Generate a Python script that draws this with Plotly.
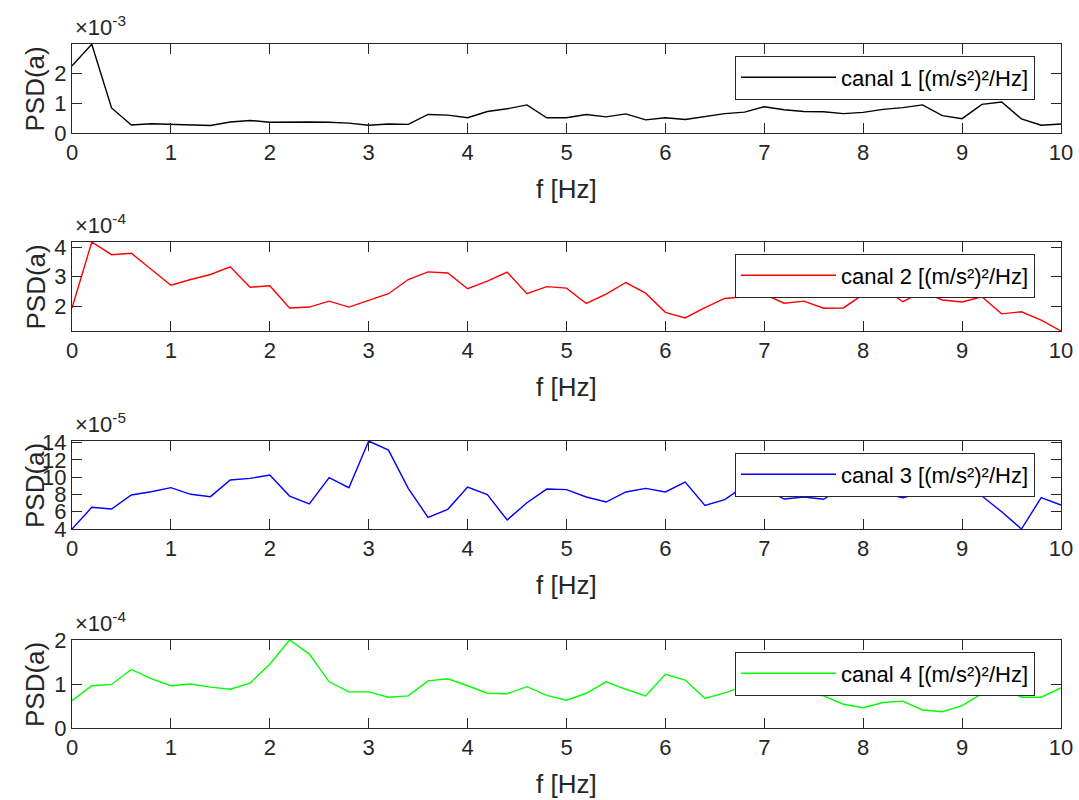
import numpy as np
import plotly.graph_objects as go

# ---------------- data ----------------
freq = [round(0.2 * i, 1) for i in range(51)]  # 0 ... 10 Hz

canal1 = [2.25, 2.97, 0.84, 0.27, 0.31, 0.29, 0.27, 0.25, 0.37, 0.42,
          0.36, 0.37, 0.37, 0.36, 0.33, 0.26, 0.30, 0.29, 0.62, 0.60,
          0.51, 0.72, 0.81, 0.94, 0.51, 0.51, 0.62, 0.54, 0.64, 0.44,
          0.51, 0.45, 0.55, 0.65, 0.70, 0.88, 0.78, 0.72, 0.71, 0.65,
          0.69, 0.79, 0.85, 0.94, 0.58, 0.48, 0.96, 1.04, 0.47, 0.26,
          0.30]  # x 1e-3
canal2 = [1.94, 4.17, 3.74, 3.79, 3.25, 2.71, 2.90, 3.07, 3.33, 2.64,
          2.69, 1.94, 1.97, 2.17, 1.97, 2.19, 2.42, 2.90, 3.16, 3.12,
          2.59, 2.85, 3.15, 2.42, 2.66, 2.61, 2.09, 2.41, 2.80, 2.44,
          1.79, 1.60, 1.95, 2.26, 2.32, 2.41, 2.10, 2.17, 1.93, 1.94,
          2.40, 2.65, 2.15, 2.49, 2.21, 2.14, 2.32, 1.74, 1.81, 1.53,
          1.16]  # x 1e-4
canal3 = [4.00, 6.51, 6.32, 7.94, 8.32, 8.79, 8.02, 7.75, 9.68, 9.87,
          10.25, 7.82, 6.90, 9.95, 8.79, 14.2, 13.15, 8.71, 5.35, 6.28,
          8.86, 7.98, 5.04, 7.05, 8.63, 8.56, 7.71, 7.13, 8.29, 8.71,
          8.29, 9.44, 6.74, 7.40, 9.00, 8.70, 7.47, 7.71, 7.44, 8.90,
          8.70, 8.13, 7.63, 8.21, 8.40, 8.48, 7.82, 6.00, 4.00, 7.63,
          6.78]  # x 1e-5
canal4 = [0.62, 0.96, 0.99, 1.33, 1.12, 0.96, 1.00, 0.93, 0.88, 1.02,
          1.45, 2.00, 1.68, 1.05, 0.82, 0.82, 0.70, 0.73, 1.07, 1.12,
          0.96, 0.79, 0.78, 0.94, 0.74, 0.63, 0.79, 1.05, 0.88, 0.73,
          1.22, 1.09, 0.67, 0.80, 0.95, 0.90, 0.75, 0.81, 0.73, 0.54,
          0.46, 0.58, 0.61, 0.41, 0.37, 0.51, 0.78, 0.92, 0.70, 0.70,
          0.91]  # x 1e-4

names = ["canal 1 [(m/s²)²/Hz]", "canal 2 [(m/s²)²/Hz]",
         "canal 3 [(m/s²)²/Hz]", "canal 4 [(m/s²)²/Hz]"]
exponents = [-3, -4, -5, -4]
y_ranges = [(0, 2.98), (1.16, 4.17), (4.0, 14.2), (0, 2.0)]
y_ticks = [[0, 1, 2], [2, 3, 4], [4, 6, 8, 10, 12, 14], [0, 1, 2]]
x_ticks = list(range(0, 11))
colors = ["#000000", "#ff0000", "#0000ff", "#00ff00"]
series = [canal1, canal2, canal3, canal4]

# ---------------- layout geometry (pixels) ----------------
W, H = 1079, 800
left_px, right_px = 72, 1061
panels_px = [(44, 133), (242, 331), (441, 529), (640, 728)]

FONT = "Liberation Sans, Arial, Helvetica, sans-serif"
AX = "#262626"
TICK_SIZE = 22
LABEL_SIZE = 26
LEG_SIZE = 22

fig = go.Figure()
layout = dict(
    width=W, height=H, autosize=False,
    margin=dict(l=0, r=0, t=0, b=0),
    paper_bgcolor="white", plot_bgcolor="white",
    font=dict(family=FONT, size=TICK_SIZE, color=AX),
    showlegend=True,
)
annotations = []

for i in range(4):
    sfx = "" if i == 0 else str(i + 1)
    scale = 10.0 ** exponents[i]
    yvals = np.array(series[i]) * scale
    fig.add_trace(go.Scatter(
        x=freq, y=yvals, mode="lines", name=names[i],
        line=dict(color=colors[i], width=1.4),
        xaxis="x" + sfx, yaxis="y" + sfx,
        legend="legend" + sfx,
    ))
    top, bot = panels_px[i]
    ydom = [1 - bot / H, 1 - top / H]
    layout["xaxis" + sfx] = dict(
        domain=[left_px / W, right_px / W], anchor="y" + sfx,
        range=[0, 10], tickvals=x_ticks, ticktext=[str(t) for t in x_ticks],
        showline=True, linecolor=AX, linewidth=1, mirror="ticks",
        ticks="inside", ticklen=10, tickcolor=AX, tickwidth=1,
        showgrid=False, zeroline=False, automargin=False,
        tickfont=dict(size=TICK_SIZE, color=AX, family=FONT),
    )
    layout["yaxis" + sfx] = dict(
        domain=ydom, anchor="x" + sfx,
        range=[y_ranges[i][0] * scale, y_ranges[i][1] * scale],
        tickvals=[t * scale for t in y_ticks[i]],
        ticktext=[str(t) for t in y_ticks[i]],
        showline=True, linecolor=AX, linewidth=1, mirror="ticks",
        ticks="inside", ticklen=10, tickcolor=AX, tickwidth=1,
        showgrid=False, zeroline=False, automargin=False,
        tickfont=dict(size=TICK_SIZE, color=AX, family=FONT),
    )
    layout["legend" + sfx] = dict(
        x=1035 / W, xanchor="right", y=1 - (top + 11.5) / H, yanchor="top",
        bgcolor="white", bordercolor=AX, borderwidth=1,
        font=dict(size=LEG_SIZE, color="#000000", family=FONT),
        itemwidth=95, tracegroupgap=0,
    )
    # exponent label
    annotations.append(dict(
        xref="paper", yref="paper", x=73 / W, y=1 - (top - 2) / H,
        xanchor="left", yanchor="bottom", showarrow=False,
        text="×10<sup>%d</sup>" % exponents[i],
        font=dict(size=TICK_SIZE, color=AX, family=FONT),
    ))
    # y title
    annotations.append(dict(
        xref="paper", yref="paper", x=35 / W, y=1 - ((top + bot) / 2) / H,
        xanchor="center", yanchor="middle", showarrow=False, textangle=-90,
        text="PSD(a)", font=dict(size=LABEL_SIZE, color=AX, family=FONT),
    ))
    # x title
    annotations.append(dict(
        xref="paper", yref="paper", x=((left_px + right_px) / 2) / W,
        y=1 - (bot + 56) / H,
        xanchor="center", yanchor="middle", showarrow=False,
        text="f [Hz]", font=dict(size=LABEL_SIZE, color=AX, family=FONT),
    ))

layout["annotations"] = annotations
fig.update_layout(**layout)

fig.write_html("out.html", config={"displayModeBar": False},
               post_script="document.body.style.margin='0';document.body.style.overflow='hidden';")
